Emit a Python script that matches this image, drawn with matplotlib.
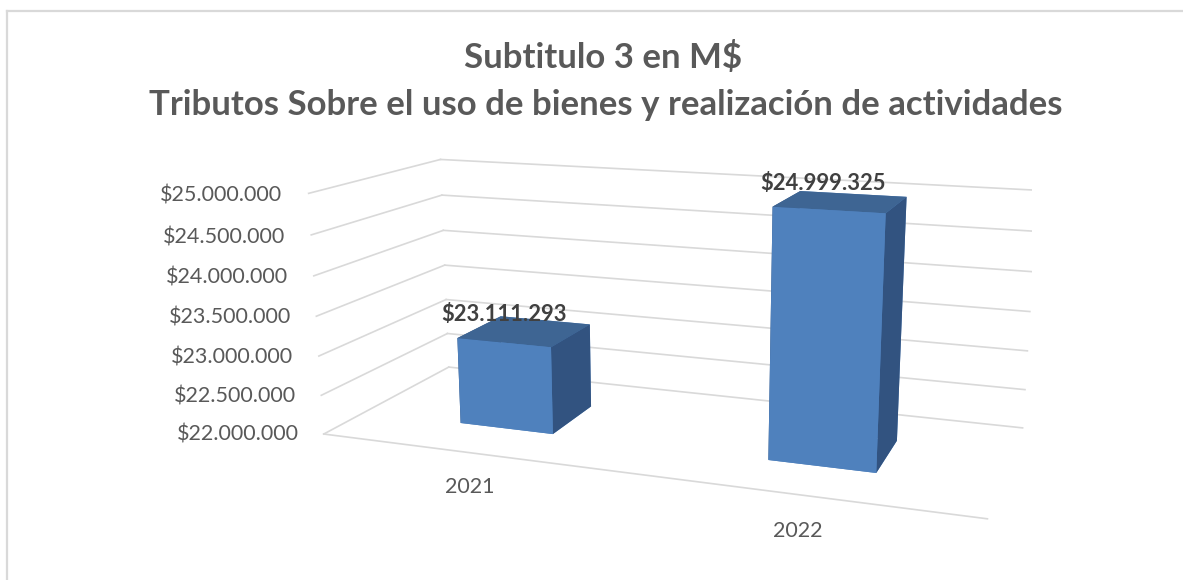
import matplotlib
matplotlib.use("Agg")
import matplotlib.pyplot as plt
from matplotlib.lines import Line2D
from mpl_toolkits.mplot3d import proj3d

plt.rcParams["font.family"] = ["Lato", "DejaVu Sans"]

# Datos
categories = ["2021", "2022"]
values = [23111293, 24999325]
y_ticks = [22000000, 22500000, 23000000, 23500000, 24000000, 24500000, 25000000]
title_lines = ["Subtitulo 3 en M$", "Tributos Sobre el uso de bienes y realización de actividades"]

W, H = 1183, 580
GRID = "#D9D9D9"
TEXT = "#595959"
LABEL = "#404040"
# caras: -z, +z, -y (frente), +y, -x, +x (lado)
FRONT, TOP, SIDE = "#4F81BD", "#3E6593", "#325380"

BAR_W = 0.3163
DEPTH_0, DEPTH_1 = 0.3022, 0.6783


def money(v):
    return f"${v:,.0f}".replace(",", ".")


fig = plt.figure(figsize=(W / 100, H / 100), dpi=100, facecolor="white")

# Marco del grafico (solo arriba e izquierda quedan dentro de la imagen)
fig.add_artist(Line2D([6.5 / W, 6.5 / W], [0, 1 - 11 / H], color=GRID, lw=1.6))
fig.add_artist(Line2D([6.5 / W, 1], [1 - 11 / H, 1 - 11 / H], color=GRID, lw=1.6))

fig.text(603 / W, 1 - 57 / H, title_lines[0], ha="center", va="center",
         fontsize=25, fontweight="bold", color=TEXT)
fig.text(605.5 / W, 1 - 105 / H, title_lines[1], ha="center", va="center",
         fontsize=25, fontweight="bold", color=TEXT)

# Camara ajustada a la perspectiva del original
side, cx, cy = 732.94, 665.6, 323.77
ax = fig.add_axes([(cx - side / 2) / W, 1 - (cy + side / 2) / H, side / W, side / H], projection="3d")
ax.set_xlim(0, 2, view_margin=0)
ax.set_ylim(0, 1, view_margin=0)
ax.set_zlim(y_ticks[0], y_ticks[-1], view_margin=0)
ax.view_init(13.8994, -70.1413, -0.0042)
ax.set_box_aspect((1, 0.3928, 0.3707))
ax.set_proj_type("persp", focal_length=0.3573)
ax.set_axis_off()
ax.patch.set_alpha(0)
ax.computed_zorder = False


def label_3d(x, y, z, s, **kw):
    # texto 2D normal en la posicion proyectada del punto 3D
    u, v, _ = proj3d.proj_transform(x, y, z, ax.get_proj())
    ax.text2D(u, v, s, transform=ax.transData, **kw)


# Lineas de division en las paredes
for t in y_ticks:
    ax.plot([0, 0], [0, 1], [t, t], color=GRID, lw=1.2, zorder=1)
    ax.plot([0, 2], [1, 1], [t, t], color=GRID, lw=1.2, zorder=1)
    label_3d(-0.091, 0, t - 50000, money(t), ha="right", va="center", fontsize=15.5, color=TEXT, zorder=5)
ax.plot([0, 2], [0, 0], [y_ticks[0]] * 2, color=GRID, lw=1.2, zorder=1)

# Barras y etiquetas
label_shift = [-0.145, -0.09]
label_lift = [35000, 105000]
for i, (cat, val) in enumerate(zip(categories, values)):
    c = i + 0.5
    ax.bar3d(c - BAR_W / 2, DEPTH_0, y_ticks[0], BAR_W, DEPTH_1 - DEPTH_0, val - y_ticks[0],
             color=[FRONT, TOP, FRONT, FRONT, SIDE, SIDE], shade=False, zorder=2 + i * 0.1)
    label_3d(c + label_shift[i], DEPTH_1, val + label_lift[i], money(val), ha="center", va="center",
             fontsize=15.8, fontweight="bold", color=LABEL, zorder=6)
    label_3d(c - 0.005, 0, 21570000, cat, ha="center", va="center", fontsize=15.5, color=TEXT, zorder=5)

fig.savefig("out.png", dpi=100)
